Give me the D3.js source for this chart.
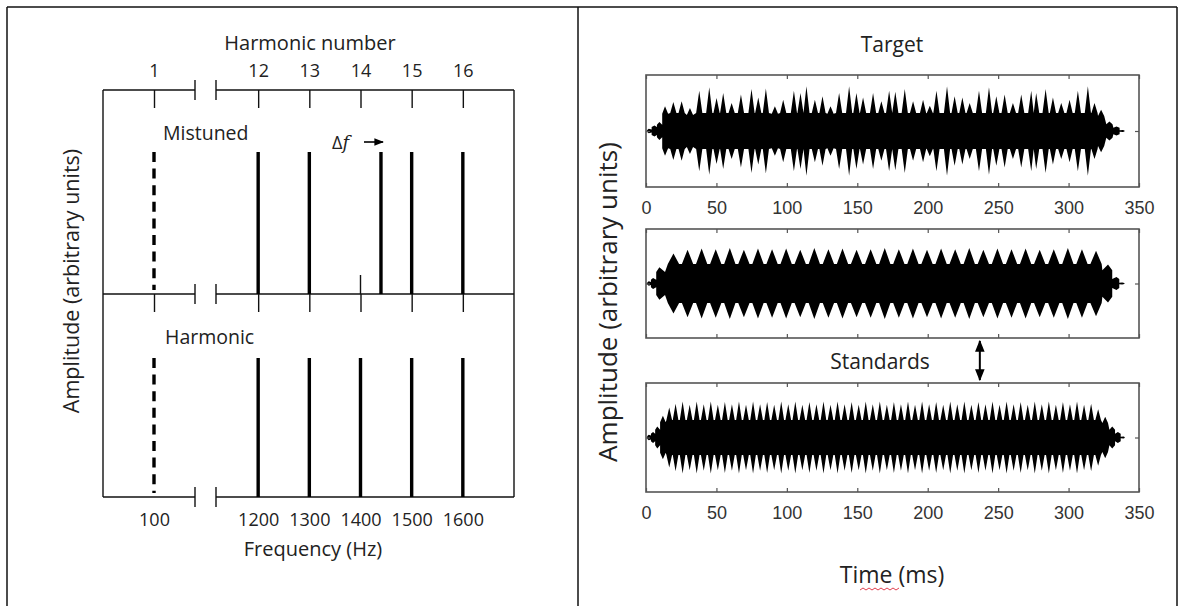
<!DOCTYPE html>
<html>
<head>
<meta charset="utf-8">
<script src="https://cdn.jsdelivr.net/npm/d3@7"></script>
<style>
  body { margin: 0; background: #fff; }
  .cal { font-family: "Open Sans", sans-serif; fill: #222; }
  .hel { font-family: "Liberation Sans", Arial, sans-serif; fill: #333; }
</style>
</head>
<body>
<div id="chart"></div>
<script>
// ---- data ----
var harmonicNumbers = [1, 12, 13, 14, 15, 16];
var harmonicFreqs = [100, 1200, 1300, 1400, 1500, 1600];
var mistunedFreqs = [100, 1200, 1300, 1440, 1500, 1600];
var componentAmps = [1, 1, 1, 1, 1, 1];
var timeTicks = [0, 50, 100, 150, 200, 250, 300, 350];

// waveform envelope peaks [time ms, amplitude]
var targetPeaks = [[2,0.04],[6,0.1],[9.5,0.16],[13.5,0.44],[19.4,0.52],[25.3,0.53],[31.2,0.41],[37.8,0.72],
  [44.9,0.78],[50.1,0.59],[54.8,0.68],[60.8,0.5],[67.4,0.65],[74.9,0.75],[79.7,0.6],[85.1,0.76],[91.5,0.44],
  [97.4,0.56],[105,0.72],[109.7,0.68],[113.9,0.8],[119.9,0.56],[125.3,0.62],[131,0.44],[137.1,0.68],[144.2,0.8],
  [149.4,0.68],[154.1,0.6],[161.2,0.68],[167.1,0.53],[172.6,0.72],[177,0.7],[183.7,0.75],[189.6,0.53],[196.7,0.56],
  [201.5,0.45],[206.2,0.72],[213.7,0.8],[219.1,0.62],[224.6,0.6],[229.8,0.5],[236.4,0.72],[243.5,0.78],[248.7,0.62],
  [254.6,0.65],[260.5,0.5],[266.4,0.65],[273.5,0.72],[277,0.68],[283.7,0.75],[288.9,0.6],[294.8,0.5],[300.7,0.56],
  [306.6,0.72],[313.7,0.8],[318.4,0.5],[323.1,0.38],[329,0.17],[334,0.08],[338.5,0.02]];

var standardPeaksA = [[2,0.04],[5,0.1],[9.5,0.3],[19.5,0.55],[29.5,0.62],[39.5,0.64],[49.5,0.63],[59.5,0.65],
  [69.5,0.62],[79.5,0.64],[89.5,0.63],[99.5,0.64],[109.5,0.62],[119.5,0.65],[129.5,0.63],[139.5,0.64],[149.5,0.62],
  [159.5,0.63],[169.5,0.65],[179.5,0.63],[189.5,0.64],[199.5,0.62],[209.5,0.64],[219.5,0.63],[229.5,0.65],[239.5,0.62],
  [249.5,0.64],[259.5,0.63],[269.5,0.64],[279.5,0.62],[289.5,0.63],[299.5,0.65],[309.5,0.63],[319.5,0.6],[328,0.35],
  [334,0.12],[338,0.02]];

var standardPeaksB = [[2,0.05],[5,0.1],[8,0.2],[12,0.4],[16.5,0.55],[21,0.62],[26,0.66],[31,0.6],[36,0.66],[41,0.61],
  [46,0.66],[51,0.6],[56,0.65],[61,0.61],[66,0.66],[71,0.6],[76,0.66],[81,0.61],[86,0.65],[91,0.6],[96,0.66],[101,0.61],
  [106,0.66],[111,0.6],[116,0.65],[121,0.61],[126,0.66],[131,0.6],[136,0.66],[141,0.61],[146,0.65],[151,0.6],[156,0.66],
  [161,0.61],[166,0.66],[171,0.6],[176,0.65],[181,0.61],[186,0.66],[191,0.6],[196,0.66],[201,0.61],[206,0.65],[211,0.6],
  [216,0.66],[221,0.61],[226,0.66],[231,0.6],[236,0.65],[241,0.61],[246,0.66],[251,0.6],[256,0.66],[261,0.61],[266,0.65],
  [271,0.6],[276,0.66],[281,0.61],[286,0.66],[291,0.6],[296,0.65],[301,0.61],[306,0.66],[311,0.6],[316,0.62],[321,0.52],
  [326,0.38],[331,0.2],[335,0.1],[339,0.02]];

var targetCore = 0.32, standardCoreA = 0.36, standardCoreB = 0.32;

// ---- svg ----
var svgWidth = 1183, svgHeight = 606;
var svg = d3.select("#chart").append("svg")
  .attr("width", svgWidth)
  .attr("height", svgHeight);

// outer table lines
var frame = svg.append("g").attr("stroke", "#111").attr("stroke-width", 1.5);
frame.append("line").attr("x1", 7).attr("x2", 1177).attr("y1", 7).attr("y2", 7);
frame.append("line").attr("x1", 7).attr("x2", 7).attr("y1", 7).attr("y2", 606);
frame.append("line").attr("x1", 578).attr("x2", 578).attr("y1", 7).attr("y2", 606);
frame.append("line").attr("x1", 1177).attr("x2", 1177).attr("y1", 7).attr("y2", 606);

// ================= left panel: spectra =================
var left = { x0: 103, x1: 514, brk0: 195, brk1: 216, yTop: 90, yMid: 294, yBot: 497 };

// broken frequency axis: low segment and high segment
var xLow = d3.scaleLinear().domain([0, 200]).range([103, 205]);
var xHigh = d3.scaleLinear().domain([1100, 1700]).range([207, 514]);
function fx(f) { return f < 1000 ? xLow(f) : xHigh(f); }

var yMist = d3.scaleLinear().domain([0, 1]).range([left.yMid, left.yMid - 142]);
var yHarm = d3.scaleLinear().domain([0, 1]).range([left.yBot, left.yBot - 139]);

var lp = svg.append("g");

// axis lines with breaks
[left.yTop, left.yMid, left.yBot].forEach(function(y) {
  lp.append("line").attr("x1", left.x0).attr("x2", left.brk0).attr("y1", y).attr("y2", y);
  lp.append("line").attr("x1", left.brk1).attr("x2", left.x1).attr("y1", y).attr("y2", y);
  lp.append("line").attr("x1", left.brk0).attr("x2", left.brk0).attr("y1", y - 10).attr("y2", y + 10);
  lp.append("line").attr("x1", left.brk1).attr("x2", left.brk1).attr("y1", y - 10).attr("y2", y + 10);
});
lp.append("line").attr("x1", left.x0).attr("x2", left.x0).attr("y1", left.yTop).attr("y2", left.yBot);
lp.append("line").attr("x1", left.x1).attr("x2", left.x1).attr("y1", left.yTop).attr("y2", left.yBot);
lp.selectAll("line").attr("stroke", "#111").attr("stroke-width", 1.4);

// tick helper for the broken axis
function drawTicks(scale, vals, y, axisFn, size, fmt, pad) {
  var g = lp.append("g")
    .attr("transform", `translate(0, ${y})`)
    .call(axisFn(scale).tickValues(vals).tickSizeInner(size).tickSizeOuter(0).tickPadding(pad).tickFormat(fmt));
  g.select(".domain").remove();
  g.selectAll("line").attr("stroke", "#111").attr("stroke-width", 1.4);
  g.selectAll("text").attr("class", "cal").style("font-size", "18px").attr("fill", "#222");
  return g;
}
drawTicks(xLow, [100], left.yTop, d3.axisTop, -18, function() { return harmonicNumbers[0]; }, 13);
drawTicks(xHigh, harmonicFreqs.slice(1), left.yTop, d3.axisTop, -18, function(d, i) { return harmonicNumbers[i + 1]; }, 13);
drawTicks(xLow, [100], left.yMid, d3.axisBottom, 18, function() { return ""; }, 0);
drawTicks(xHigh, harmonicFreqs.slice(1), left.yMid, d3.axisBottom, 18, function() { return ""; }, 0);
drawTicks(xLow, [100], left.yBot, d3.axisBottom, 0, function(d) { return d; }, 16);
drawTicks(xHigh, harmonicFreqs.slice(1), left.yBot, d3.axisBottom, 0, function(d) { return d; }, 16);

// marker of the unshifted 14th harmonic
lp.append("line")
  .attr("x1", xHigh(1400)).attr("x2", xHigh(1400))
  .attr("y1", left.yMid - 19).attr("y2", left.yMid)
  .attr("stroke", "#111").attr("stroke-width", 1.4);

// components
function drawComponents(freqs, yScale) {
  lp.selectAll(null)
    .data(freqs)
    .enter()
    .append("line")
    .attr("x1", d => fx(d)).attr("x2", d => fx(d))
    .attr("y1", (d, i) => yScale(componentAmps[i]))
    .attr("y2", d => d < 1000 ? yScale(0) - 4 : yScale(0))
    .attr("stroke", "#000")
    .attr("stroke-width", 3.4)
    .attr("stroke-dasharray", d => d < 1000 ? "10,6.6" : null);
}
drawComponents(mistunedFreqs, yMist);
drawComponents(harmonicFreqs, yHarm);

// labels
lp.append("text").attr("class", "cal").attr("x", 310).attr("y", 50)
  .attr("text-anchor", "middle").style("font-size", "20px").text("Harmonic number");
lp.append("text").attr("class", "cal").attr("x", 313).attr("y", 556)
  .attr("text-anchor", "middle").style("font-size", "20px").text("Frequency (Hz)");
lp.append("text").attr("class", "cal").attr("x", 163).attr("y", 140)
  .style("font-size", "19.5px").text("Mistuned");
lp.append("text").attr("class", "cal").attr("x", 165).attr("y", 344)
  .style("font-size", "19.5px").text("Harmonic");
lp.append("text").attr("class", "cal")
  .attr("transform", "translate(79, 281) rotate(-90)")
  .attr("text-anchor", "middle").style("font-size", "21.5px").text("Amplitude (arbitrary units)");

var df = lp.append("text").attr("class", "cal").attr("x", 332).attr("y", 149).style("font-size", "18px");
df.append("tspan").text("Δ");
df.append("tspan").style("font-style", "italic").style("font-family", "DejaVu Serif").text("f");
svg.append("defs").append("marker")
  .attr("id", "ah").attr("viewBox", "0 0 10 10").attr("refX", 9).attr("refY", 5)
  .attr("markerWidth", 6).attr("markerHeight", 6).attr("orient", "auto-start-reverse")
  .append("path").attr("d", "M0,1 L10,5 L0,9 z").attr("fill", "#000");
lp.append("line").attr("x1", 364).attr("x2", 383).attr("y1", 142).attr("y2", 142)
  .attr("stroke", "#000").attr("stroke-width", 1.6).attr("marker-end", "url(#ah)");

// ================= right panel: waveforms =================
var xTime = d3.scaleLinear().domain([0, 350]).range([646, 1139]);
var boxes = [
  { top: 75, bottom: 187, peaks: targetPeaks, core: targetCore, hw: 2.2 },
  { top: 229, bottom: 338, peaks: standardPeaksA, core: standardCoreA, hw: 4 },
  { top: 383, bottom: 492, peaks: standardPeaksB, core: standardCoreB, hw: 2 }
];

var rp = svg.append("g");

boxes.forEach(function(b, bi) {
  var y = d3.scaleLinear().domain([-1, 1]).range([b.bottom, b.top]);

  // envelope outline: trough - peak - trough around every peak
  var pts = [[0.5, 0]];
  b.peaks.forEach(function(p, i) {
    var trough = Math.min(b.core, p[1] * 0.7);
    var prev = i > 0 ? b.peaks[i - 1][0] : 0.5;
    var next = i < b.peaks.length - 1 ? b.peaks[i + 1][0] : 340;
    var w0 = Math.min(b.hw, (p[0] - prev) / 2), w1 = Math.min(b.hw, (next - p[0]) / 2);
    pts.push([p[0] - w0, trough], [p[0], p[1]], [p[0] + w1, trough]);
  });
  pts.push([340, 0]);

  var area = d3.area()
    .x(d => xTime(d[0]))
    .y0(d => y(-d[1]))
    .y1(d => y(d[1]));
  rp.append("path").datum(pts).attr("d", area).attr("fill", "#000");

  // box + inside ticks
  rp.append("rect")
    .attr("x", xTime(0)).attr("y", b.top)
    .attr("width", xTime(350) - xTime(0)).attr("height", b.bottom - b.top)
    .attr("fill", "none").attr("stroke", "#555").attr("stroke-width", 1.6);

  var showLabels = bi !== 1;
  var bottomAxis = rp.append("g")
    .attr("transform", `translate(0, ${b.bottom})`)
    .call(d3.axisBottom(xTime).tickValues(timeTicks).tickSizeInner(-4).tickSizeOuter(0).tickPadding(14)
      .tickFormat(showLabels ? d3.format("d") : ""));
  var topAxis = rp.append("g")
    .attr("transform", `translate(0, ${b.top})`)
    .call(d3.axisTop(xTime).tickValues(timeTicks).tickSizeInner(-4).tickSizeOuter(0).tickFormat(""));
  var leftAxis = rp.append("g")
    .attr("transform", `translate(${xTime(0)}, 0)`)
    .call(d3.axisLeft(y).tickValues([0]).tickSizeInner(-4).tickSizeOuter(0).tickFormat(""));
  var rightAxis = rp.append("g")
    .attr("transform", `translate(${xTime(350)}, 0)`)
    .call(d3.axisRight(y).tickValues([0]).tickSizeInner(-4).tickSizeOuter(0).tickFormat(""));
  [bottomAxis, topAxis, leftAxis, rightAxis].forEach(function(a) {
    a.select(".domain").remove();
    a.selectAll("line").attr("stroke", "#555").attr("stroke-width", 1.2);
    a.selectAll("text").attr("class", "hel").style("font-size", "18px").attr("fill", "#3a3a3a");
  });
});

rp.append("text").attr("class", "cal").attr("x", 892).attr("y", 52)
  .attr("text-anchor", "middle").style("font-size", "21px").text("Target");
rp.append("text").attr("class", "cal").attr("x", 880).attr("y", 369)
  .attr("text-anchor", "middle").style("font-size", "21px").text("Standards");
rp.append("text").attr("class", "cal").attr("x", 892).attr("y", 583)
  .attr("text-anchor", "middle").style("font-size", "23px").text("Time (ms)");
rp.append("text").attr("class", "cal")
  .attr("transform", "translate(617, 302) rotate(-90)")
  .attr("text-anchor", "middle").style("font-size", "26px").style("font-weight", "500")
  .text("Amplitude (arbitrary units)");

// double arrow between the two standards
rp.append("line")
  .attr("x1", xTime(237)).attr("x2", xTime(237))
  .attr("y1", boxes[1].bottom + 3).attr("y2", boxes[2].top - 3)
  .attr("stroke", "#000").attr("stroke-width", 2)
  .attr("marker-start", "url(#ah)").attr("marker-end", "url(#ah)");

// spell-check squiggle under "ms"
rp.append("path")
  .attr("d", "M860,590 l3,-2 l3,2 l3,-2 l3,2 l3,-2 l3,2 l3,-2 l3,2 l3,-2 l3,2 l3,-2 l3,2 l3,-2")
  .attr("fill", "none").attr("stroke", "#e04050").attr("stroke-width", 1);
</script>
</body>
</html>
